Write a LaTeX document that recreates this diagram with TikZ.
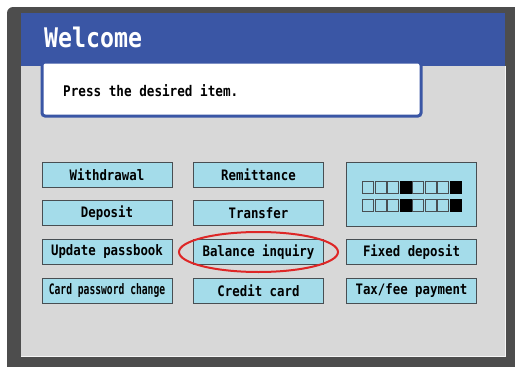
\documentclass[tikz,border=0pt]{standalone}
\usepackage{fontspec}
\newfontfamily\uifont[FakeStretch=0.86]{DejaVu Sans Mono}
\definecolor{framegray}{RGB}{77,77,77}
\definecolor{screengray}{RGB}{216,216,216}
\definecolor{headblue}{RGB}{58,86,165}
\definecolor{btnfill}{RGB}{164,220,234}
\definecolor{btnedge}{RGB}{72,78,82}
\definecolor{markred}{RGB}{222,38,38}
\tikzset{
  btn/.style={draw=btnedge, line width=1pt, fill=btnfill, inner sep=0pt,
    minimum width=130pt, minimum height=25pt,
    font=\uifont\bfseries\fontsize{14.4}{16}\selectfont, text=black},
  cell/.style={draw=btnedge, line width=1.2pt, fill=btnfill, inner sep=0pt,
    minimum width=11pt, minimum height=12.5pt},
  cellon/.style={cell, fill=black, draw=black}
}
\begin{document}
\begin{tikzpicture}[x=1pt,y=-1pt]
\useasboundingbox (0,0) rectangle (515,367);
% housing and screen
\fill[framegray, rounded corners=6pt] (7,7) rectangle (530,375);
\fill[screengray] (21,12.5) rectangle (505,356);
\draw[white!92!gray, line width=0.8pt] (21,356) -- (505,356) -- (505,66);
% title bar
\fill[headblue] (21,12.5) rectangle (505,66);
\node[anchor=base west, inner sep=0pt, text=white,
  font=\uifont\bfseries\fontsize{27}{30}\selectfont] (title) at (44,47) {Welcome};
% message box
\draw[headblue, line width=3pt, fill=white, rounded corners=3pt] (42,62) rectangle (421,116);
\node[anchor=base west, inner sep=0pt,
  font=\uifont\bfseries\fontsize{14.7}{16}\selectfont] (msg) at (63,96) {Press the desired item.};
% menu buttons
\node[btn] (withdrawal) at (107,174.5) {Withdrawal};
\node[btn] (deposit)    at (107,213) {Deposit};
\node[btn] (passbook)   at (107,252) {Update passbook};
\node[btn] (password)   at (107,291) {\scalebox{0.78}[1]{Card password change}};
\node[btn] (remit)      at (258.5,174.5) {Remittance};
\node[btn] (transfer)   at (258.5,213) {Transfer};
\node[btn] (balance)    at (258.5,252) {Balance inquiry};
\node[btn] (credit)     at (258.5,291) {Credit card};
\node[btn, minimum height=64pt] (display) at (411.5,194) {};
\node[btn] (fixed)      at (411.5,252) {Fixed deposit};
\node[btn] (tax)        at (411.5,291) {Tax/fee payment};
% code indicator cells
\foreach \r/\yy in {1/187.5, 2/205.5}{
  \foreach \c in {1,...,8}{
    \pgfmathsetmacro{\xx}{362+6.25+(\c-1)*12.5}
    \ifnum\c=4 \node[cellon] (cell\r\c) at (\xx,\yy) {};
    \else\ifnum\c=8 \node[cellon] (cell\r\c) at (\xx,\yy) {};
    \else \node[cell] (cell\r\c) at (\xx,\yy) {};
    \fi\fi
  }
}
% highlight around the selected item
\draw[markred, line width=2pt] (balance.center) ellipse [x radius=79.5pt, y radius=20pt];
\end{tikzpicture}
\end{document}
